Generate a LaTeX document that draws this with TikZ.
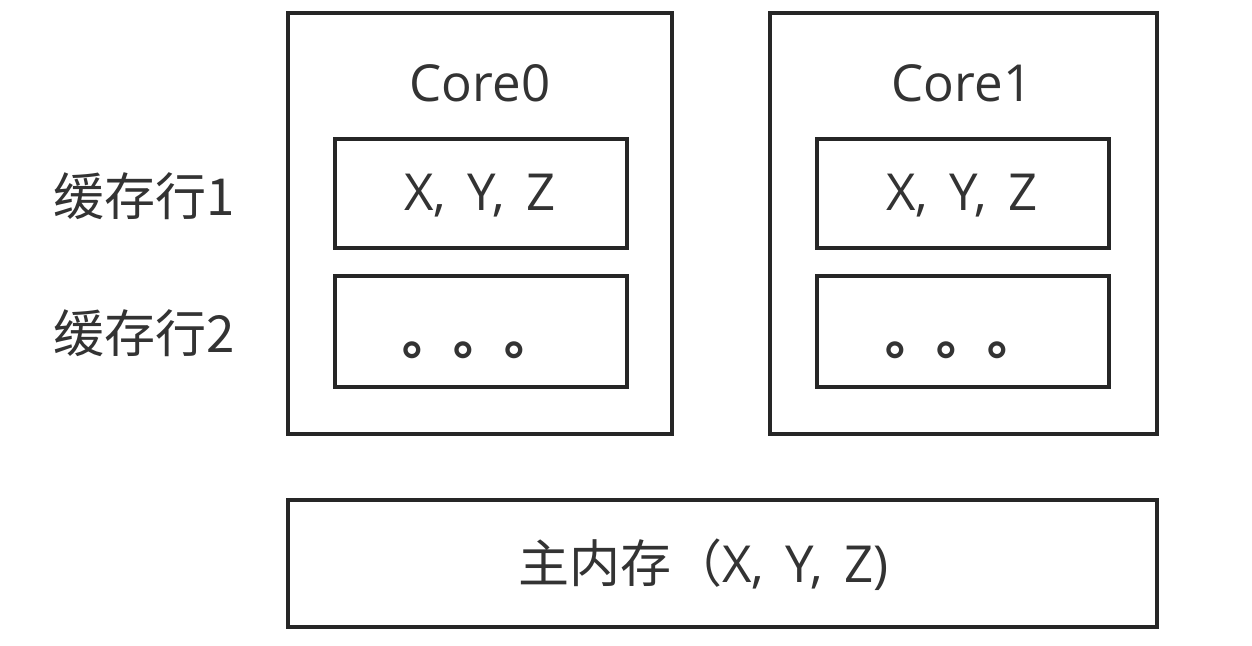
\documentclass[tikz,border=0pt]{standalone}
\usepackage{fontspec}
\setmainfont[WordSpace={1.6}]{Open Sans}
\newfontfamily\cjk{Noto Sans CJK SC}
\begin{document}
\begin{tikzpicture}[x=1pt,y=-1pt,
  box/.style={draw=black!85,line width=3.5pt,inner sep=0pt},
  txt/.style={font=\fontsize{51}{54}\selectfont,text=black!80,inner sep=0pt},
  ctxt/.style={font=\fontsize{51}{54}\cjk,text=black!80,inner sep=0pt}]
\useasboundingbox[fill=white] (0,0) rectangle (1252,645);
% cores
\draw[box] (288,13) rectangle (672,434) coordinate (c0);
\draw[box] (770,13) rectangle (1157,434) coordinate (c1);
\node[txt] (t0) at (480,83) {Core0};
\node[txt] (t1) at (962,83) {Core1};
% cache lines
\node[box,minimum width=292pt,minimum height=109pt] (a1) at (481,193.5) {};
\node[box,minimum width=292pt,minimum height=111pt] (a2) at (481,331.5) {};
\node[box,minimum width=292pt,minimum height=109pt] (b1) at (963,193.5) {};
\node[box,minimum width=292pt,minimum height=111pt] (b2) at (963,331.5) {};
\node[txt] (xa) at (480,196) {X, Y, Z};
\node[txt] (xb) at (962,196) {X, Y, Z};
\node[ctxt,anchor=base west,font=\fontsize{51}{54}\cjk\bfseries] (da) at (402,354) {。。。};
\node[ctxt,anchor=base west,font=\fontsize{51}{54}\cjk\bfseries] (db) at (885,354) {。。。};
% labels
\node[ctxt,anchor=west] (l1) at (53,196) {缓存行1};
\node[ctxt,anchor=west] (l2) at (53,333) {缓存行2};
% main memory
\node[box,minimum width=869pt,minimum height=127pt] (m) at (722.5,563.5) {};
\node[txt,anchor=west] (mt) at (518,565) {{\cjk\fontsize{51}{54}\selectfont 主内存（}X, Y, Z)};
\end{tikzpicture}
\end{document}
